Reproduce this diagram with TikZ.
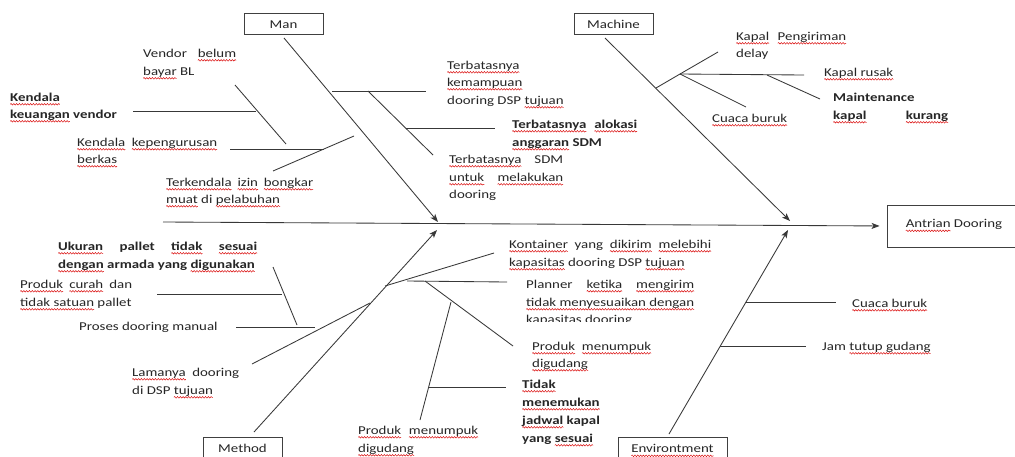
\documentclass[tikz,border=0pt]{standalone}
\usepackage{fontspec}
\setmainfont{Carlito}[FakeStretch=1.24]
\usetikzlibrary{arrows.meta,decorations.pathmorphing}
\newsavebox\sqbox
\newlength\sqwd
\newcommand\sq[1]{\sbox\sqbox{#1}\setlength\sqwd{\wd\sqbox}\rlap{\tikz[overlay,baseline=0pt,x=1pt,y=1pt]\draw[red!85!black,line width=0.45pt,decorate,decoration={snake,amplitude=0.8pt,segment length=2.8pt}] (0pt,-3.3pt) -- (\the\sqwd,-3.3pt);}\usebox\sqbox}
\begin{document}
\begin{tikzpicture}[x=1pt,y=-1pt,
  ln/.style={draw=black!78,line width=0.85pt},
  arr/.style={ln,-{Stealth[length=8pt,width=6pt,inset=2pt]}},
  txt/.style={anchor=base west,inner sep=0pt,font=\fontsize{12}{14}\selectfont,text=black!85},
  btxt/.style={txt,font=\fontsize{12}{14}\selectfont\bfseries},
  cat/.style={draw=black!75,line width=0.9pt,inner sep=0pt,font=\fontsize{12}{14}\selectfont,text=black!85,text height=9pt,text depth=0pt}]
\useasboundingbox (0,0) rectangle (1015,456);
\clip (0,0) rectangle (1015,456);
\fill[white] (0,0) rectangle (1015,456);

% category boxes
\node[cat,minimum width=79pt,minimum height=21pt] (man) at (283.5,23.5) {Man};
\node[cat,minimum width=79pt,minimum height=21pt] (machine) at (613.5,23.5) {Machine};
\node[cat,minimum width=79pt,minimum height=22pt] (method) at (242.5,448) {Method};
\node[cat,minimum width=109pt,minimum height=22pt] (env) at (672.5,448) {\sq{Environtment}};
\node[cat,text depth=6pt,minimum width=134pt,minimum height=42pt] (antrian) at (954,226) {\sq{Antrian} Dooring};

% spine and main bones
\coordinate (spL) at (163,222);
\draw[arr,shorten >=7pt] (spL) -- (antrian.west);
\coordinate (manT) at (284,38);   \coordinate (manH) at (438,222);
\coordinate (machT) at (605,38);  \coordinate (machH) at (790,221);
\coordinate (methT) at (254,432); \coordinate (methH) at (437,230);
\coordinate (envT) at (669,434);  \coordinate (envH) at (788,230);
\draw[arr] (manT) -- (manH);
\draw[arr] (machT) -- (machH);
\draw[arr] (methT) -- (methH);
\draw[arr] (envT) -- (envH);

% Man branches
\coordinate (b1a) at (235,85);  \coordinate (b1b) at (286,144);
\coordinate (b2a) at (133,111); \coordinate (b2b) at (256,111);
\coordinate (b3a) at (230,149); \coordinate (b3b) at (324,149);
\coordinate (b4a) at (273,171); \coordinate (b4b) at (354,136);
\coordinate (b5a) at (332,91);  \coordinate (b5b) at (426,91);
\coordinate (b6a) at (368,91);  \coordinate (b6b) at (433,155);
\coordinate (b7a) at (406,128); \coordinate (b7b) at (495,128);
\foreach \i in {1,...,7} {\draw[ln] (b\i a) -- (b\i b);}

% Machine branches
\coordinate (m1a) at (656,88);  \coordinate (hub) at (680,74);
\coordinate (m2b) at (718,52);
\coordinate (m3b) at (804,75);
\coordinate (m4b) at (746,107);
\coordinate (m5a) at (767,75);  \coordinate (m5b) at (820,99);
\draw[ln] (m1a) -- (hub);
\draw[ln] (hub) -- (m2b);
\draw[ln] (hub) -- (m3b);
\draw[ln] (hub) -- (m4b);
\draw[ln] (m5a) -- (m5b);

% Method branches
\coordinate (d1a) at (273,267); \coordinate (d1b) at (297,325);
\coordinate (d2a) at (157,294); \coordinate (d2b) at (282,294);
\coordinate (d3a) at (236,327); \coordinate (d3b) at (315,327);
\coordinate (d4a) at (252,364); \coordinate (d4b) at (370,303);
\coordinate (d5a) at (385,286); \coordinate (d5b) at (494,253);
\coordinate (d6a) at (407,281); \coordinate (d6b) at (507,282);
\coordinate (d7a) at (425,281); \coordinate (d7b) at (513,346);
\coordinate (d8a) at (451,302); \coordinate (d8b) at (420,420);
\coordinate (d9a) at (429,387); \coordinate (d9b) at (506,387);
\foreach \i in {1,...,9} {\draw[ln] (d\i a) -- (d\i b);}

% Environment branches
\coordinate (e1a) at (746,302); \coordinate (e1b) at (836,302);
\coordinate (e2a) at (720,346); \coordinate (e2b) at (806,346);
\draw[ln] (e1a) -- (e1b);
\draw[ln] (e2a) -- (e2b);

% Man texts
\node[txt] (t1a) at (143,57) {\makebox[93pt][l]{Vendor\hfill\sq{belum}}};
\node[txt] (t1b) at (143,75) {\sq{bayar} BL};
\node[btxt] (t2a) at (10,101) {\sq{Kendala}};
\node[btxt] (t2b) at (10,118) {\sq{keuangan} vendor};
\node[txt] (t3a) at (77,146) {\makebox[140pt][l]{\sq{Kendala}\hfill\sq{kepengurusan}}};
\node[txt] (t3b) at (77,163) {\sq{berkas}};
\node[txt] (t4a) at (166,186) {\makebox[147pt][l]{\sq{Terkendala}\hfill\sq{izin}\hfill\sq{bongkar}}};
\node[txt] (t4b) at (166,203) {\sq{muat} di \sq{pelabuhan}};
\node[txt] (t5a) at (447,69) {\sq{Terbatasnya}};
\node[txt] (t5b) at (447,86) {\sq{kemampuan}};
\node[txt] (t5c) at (447,104) {dooring DSP \sq{tujuan}};
\node[btxt] (t6a) at (512,128) {\makebox[125pt][l]{\sq{Terbatasnya}\hfill\sq{alokasi}}};
\node[btxt] (t6b) at (512,146) {\sq{anggaran} SDM};
\node[txt] (t7a) at (449,163) {\makebox[114pt][l]{\sq{Terbatasnya}\hfill SDM}};
\node[txt] (t7b) at (449,181) {\makebox[114pt][l]{\sq{untuk}\hfill\sq{melakukan}}};
\node[txt] (t7c) at (449,198) {dooring};

% Machine texts
\node[txt] (t8a) at (736,40) {\makebox[110pt][l]{\sq{Kapal}\hfill\sq{Pengiriman}}};
\node[txt] (t8b) at (736,57) {delay};
\node[txt] (t9) at (824,76) {\sq{Kapal rusak}};
\node[btxt] (t10a) at (833,101) {Maintenance};
\node[btxt] (t10b) at (833,119) {\makebox[115pt][l]{\sq{kapal}\hfill\sq{kurang}}};
\node[txt] (t11) at (712,122) {\sq{Cuaca buruk}};

% Method texts
\node[btxt] (t13a) at (58,250) {\makebox[199pt][l]{\sq{Ukuran}\hfill pallet\hfill\sq{tidak}\hfill\sq{sesuai}}};
\node[btxt] (t13b) at (58,268) {\sq{dengan} armada yang \sq{digunakan}};
\node[txt] (t14a) at (20,288) {\makebox[112pt][l]{\sq{Produk}\hfill\sq{curah}\hfill dan}};
\node[txt] (t14b) at (20,306) {\sq{tidak satuan} pallet};
\node[txt] (t15) at (79,330) {Proses dooring manual};
\node[txt] (t16a) at (132,376) {\makebox[107pt][l]{\sq{Lamanya}\hfill dooring}};
\node[txt] (t16b) at (132,394) {di DSP \sq{tujuan}};
\node[txt] (t17a) at (509,248) {\makebox[202pt][l]{\sq{Kontainer}\hfill yang\hfill\sq{dikirim}\hfill\sq{melebihi}}};
\node[txt] (t17b) at (509,266) {\sq{kapasitas} dooring DSP \sq{tujuan}};
\node[txt] (t18a) at (526,288) {\makebox[168pt][l]{Planner\hfill\sq{ketika}\hfill\sq{mengirim}}};
\node[txt] (t18b) at (526,306) {\sq{tidak menyesuaikan dengan}};
\begin{scope}
\clip (500,300) rectangle (720,321.5);
\node[txt] (t18c) at (526,323) {\sq{kapasitas} dooring};
\end{scope}
\node[txt] (t19a) at (532,350) {\makebox[119pt][l]{\sq{Produk}\hfill\sq{menumpuk}}};
\node[txt] (t19b) at (532,367) {\sq{digudang}};
\node[btxt] (t20a) at (522,388) {\sq{Tidak}};
\node[btxt] (t20b) at (522,406) {\sq{menemukan}};
\node[btxt] (t20c) at (522,424) {\sq{jadwal} kapal};
\node[btxt] (t20d) at (522,442) {yang \sq{sesuai}};
\node[txt] (t21a) at (358,434) {\makebox[120pt][l]{\sq{Produk}\hfill\sq{menumpuk}}};
\node[txt] (t21b) at (358,452) {\sq{digudang}};

% Environment texts
\node[txt] (t22) at (852,307) {\sq{Cuaca buruk}};
\node[txt] (t23) at (822,350) {Jam \sq{tutup gudang}};
\end{tikzpicture}
\end{document}
